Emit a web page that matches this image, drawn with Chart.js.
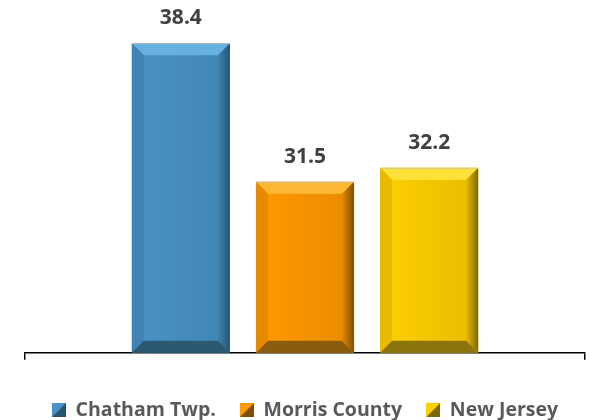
<!DOCTYPE html>
<html>
<head>
<meta charset="utf-8">
<script src="https://cdn.jsdelivr.net/npm/chart.js@4/dist/chart.umd.min.js"></script>
<style>
  body { margin: 0; background: #fff; }
  #wrap { width: 593px; height: 420px; position: relative; }
</style>
</head>
<body>
<div id="wrap"><canvas id="myChart"></canvas></div>
<script>
const categories = [''];
const seriesNames = ['Chatham Twp.', 'Morris County', 'New Jersey'];
const chathamValues = [38.4];
const morrisValues = [31.5];
const njValues = [32.2];

// face, top, left, right, bottom
const bevelColors = [
    ['#4a93c4', '#67b1e0', '#3f84b4', '#27536f', '#2d5873'],
    ['#ff9a00', '#ffb835', '#e88a00', '#7c500b', '#8c5c0e'],
    ['#ffd000', '#ffe13a', '#e8bb00', '#7c6708', '#8c740d']
];

function legendMarker(c) {
    const cv = document.createElement('canvas');
    cv.width = 14; cv.height = 14;
    const g = cv.getContext('2d');
    g.fillStyle = c[3];
    g.fillRect(0, 0, 14, 14);
    g.fillStyle = c[0];
    g.beginPath();
    g.moveTo(0, 0); g.lineTo(14, 0); g.lineTo(0, 14); g.closePath();
    g.fill();
    return cv;
}

const bevelPlugin = {
    id: 'bevel',
    afterDatasetsDraw(chart) {
        const ctx = chart.ctx;
        chart.data.datasets.forEach((ds, i) => {
            const c = bevelColors[i];
            chart.getDatasetMeta(i).data.forEach((bar, j) => {
                const L = bar.x - bar.width / 2, R = bar.x + bar.width / 2;
                const T = bar.y, B = bar.base;
                const b = 12;
                const poly = (pts, col) => {
                    ctx.fillStyle = col;
                    ctx.beginPath();
                    ctx.moveTo(pts[0][0], pts[0][1]);
                    pts.slice(1).forEach(p => ctx.lineTo(p[0], p[1]));
                    ctx.closePath();
                    ctx.fill();
                };
                ctx.save();
                const fg = ctx.createLinearGradient(L, 0, R, 0);
                fg.addColorStop(0, c[0]);
                fg.addColorStop(1, c[2]);
                ctx.fillStyle = fg;
                ctx.fillRect(L + b, T + b, R - L - 2 * b, B - T - 2 * b);
                poly([[L, T], [R, T], [R - b, T + b], [L + b, T + b]], c[1]);
                poly([[L, T], [L + b, T + b], [L + b, B - b], [L, B]], c[2]);
                const rg = ctx.createLinearGradient(R - b, 0, R, 0);
                rg.addColorStop(0, c[2]);
                rg.addColorStop(1, c[3]);
                poly([[R, T], [R - b, T + b], [R - b, B - b], [R, B]], rg);
                poly([[L, B], [R, B], [R - b, B - b], [L + b, B - b]], c[4]);
                ctx.strokeStyle = 'rgba(190,190,190,0.8)';
                ctx.lineWidth = 1;
                ctx.beginPath();
                ctx.moveTo(L, T + 0.5); ctx.lineTo(R, T + 0.5);
                ctx.stroke();
                ctx.fillStyle = '#404040';
                ctx.font = 'bold 21px "Open Sans"';
                ctx.textAlign = 'center';
                ctx.textBaseline = 'middle';
                ctx.fillText(ds.data[j].toFixed(1), bar.x, T - 25);
                ctx.restore();
            });
        });
    }
};

const datasets = [chathamValues, morrisValues, njValues].map((vals, i) => ({
    label: seriesNames[i],
    data: vals,
    base: 23,
    backgroundColor: bevelColors[i][0],
    borderWidth: 0,
    pointStyle: legendMarker(bevelColors[i]),
    barPercentage: 0.79,
    categoryPercentage: 0.665
}));

new Chart(document.querySelector('#myChart'), {
    type: 'bar',
    data: { labels: categories, datasets },
    options: {
        responsive: true,
        maintainAspectRatio: false,
        animation: false,
        layout: { padding: { top: 11, left: 25, right: 8, bottom: -10 } },
        plugins: {
            tooltip: { enabled: false },
            legend: {
                position: 'bottom',
                title: { display: true, text: ' ', font: { size: 14 }, padding: 0 },
                labels: {
                    usePointStyle: true,
                    pointStyleWidth: 14,
                    color: '#595959',
                    font: { family: '"Open Sans"', size: 19.5, weight: 'bold' },
                    padding: 24
                }
            }
        },
        scales: {
            y: { display: false, min: 23, max: 40 },
            x: {
                grid: { drawOnChartArea: false, color: '#000', tickLength: 7, lineWidth: 1.5 },
                border: { display: true, color: '#000', width: 1.5 },
                ticks: { display: false }
            }
        }
    },
    plugins: [bevelPlugin]
});
</script>
</body>
</html>
